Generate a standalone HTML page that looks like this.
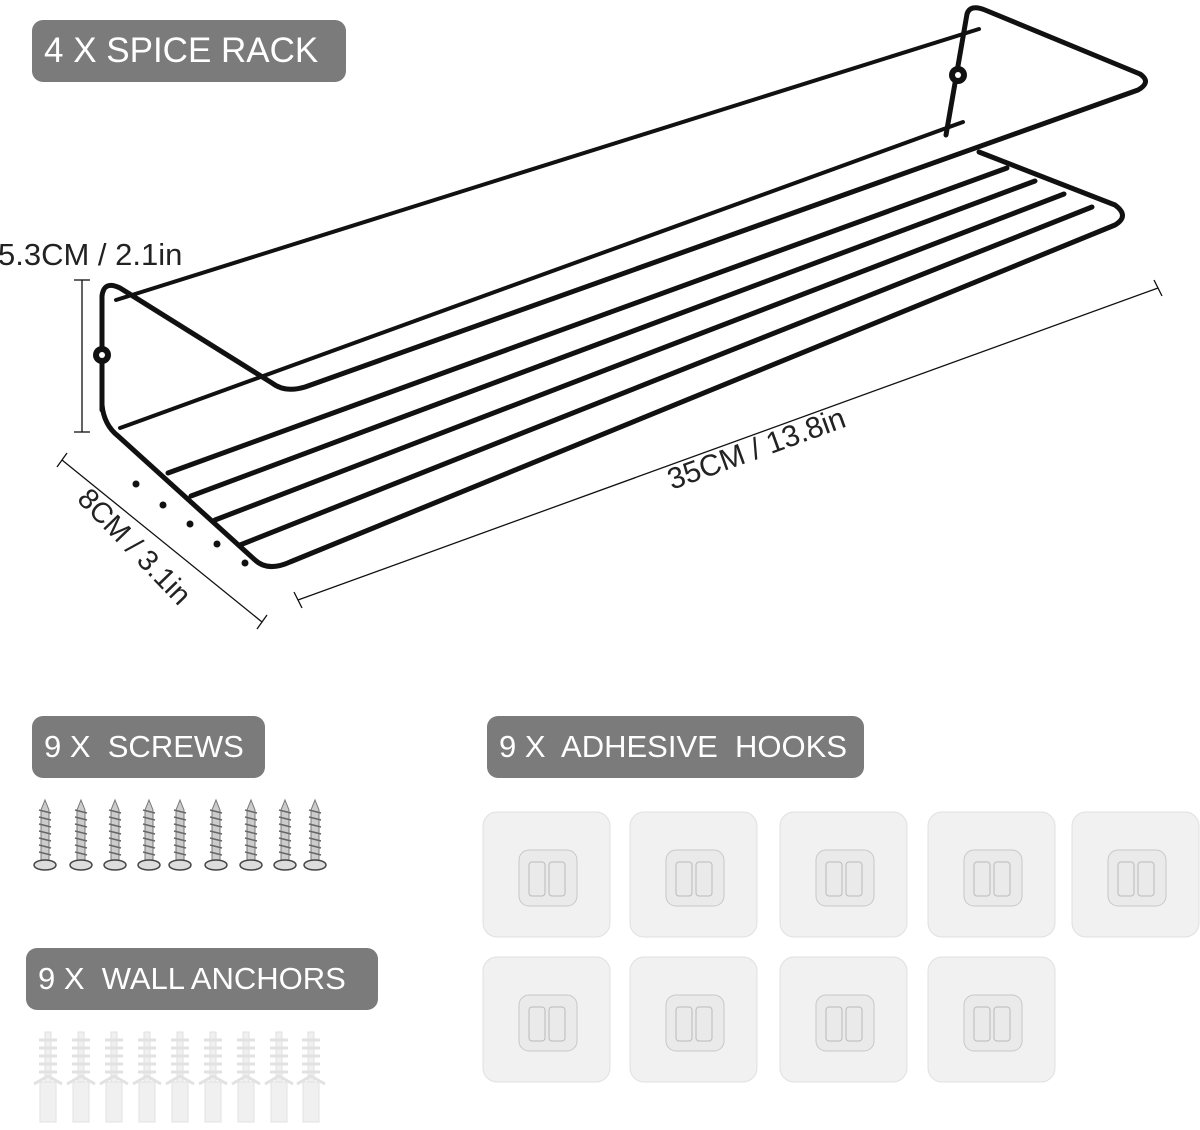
<!DOCTYPE html>
<html><head><style>
body{margin:0;background:#fff;}
.lab{position:absolute;background:#7b7b7b;color:#fff;font-family:"Liberation Sans",sans-serif;border-radius:11px;display:flex;align-items:center;padding-left:12px;box-sizing:border-box;font-size:31px;white-space:pre;}
</style></head><body>
<div style="position:relative;width:1200px;height:1130px;overflow:hidden;">
<svg width="1200" height="1130" style="position:absolute;left:0;top:0" font-family="Liberation Sans, sans-serif">
<g fill="none" stroke="#111" stroke-width="5" stroke-linecap="round" stroke-linejoin="round">
<path d="M116 300 L979 29" stroke-width="4"/>
<path d="M120 428 L963 122" stroke-width="4"/>
<path d="M102 410 L102 296 Q104 280 120 288 L272 383 Q285 393 305 387 L1138 90 Q1152 82 1140 74 L985 10 Q970 4 967 14 L946 135"/>
<path d="M102 405 Q104 425 118 436 L255 560 Q268 572 290 562 L1115 225 Q1130 216 1115 205 L979 152"/>
<path d="M168 473 L1007 168"/>
<path d="M191 496 L1035 181"/>
<path d="M215 520 L1064 194"/>
<path d="M240 545 L1092 207"/>
</g>
<g fill="#111"><circle cx="136" cy="484" r="3.5"/><circle cx="163" cy="505" r="3.5"/><circle cx="190" cy="524" r="3.5"/><circle cx="217" cy="544" r="3.5"/><circle cx="245" cy="563" r="3.5"/></g>
<circle cx="102" cy="355" r="9" fill="#111"/><circle cx="102" cy="355" r="3" fill="#fff"/>
<circle cx="958" cy="75" r="9" fill="#111"/><circle cx="958" cy="75" r="3" fill="#fff"/>
<g stroke="#111" stroke-width="1.3">
<line x1="82" y1="280" x2="82" y2="432"/><line x1="74" y1="280" x2="90" y2="280"/><line x1="74" y1="432" x2="90" y2="432"/>
<line x1="62" y1="460" x2="262" y2="622"/><line x1="57" y1="467" x2="67" y2="453"/><line x1="257" y1="629" x2="267" y2="615"/>
<line x1="298" y1="600" x2="1158" y2="288"/><line x1="294" y1="592" x2="302" y2="608"/><line x1="1154" y1="280" x2="1162" y2="296"/>
</g>
<g fill="#222">
<text x="-2" y="265" font-size="31">5.3CM / 2.1in</text>
<text transform="translate(76,500) rotate(46)" font-size="29">8CM / 3.1in</text>
<text transform="translate(672,490) rotate(-20)" font-size="30">35CM / 13.8in</text>
</g>
</svg>
<svg width="1200" height="1130" style="position:absolute;left:0;top:0">
<defs>
<g id="screw"><path d="M0 0 L4 10 L4 60 L-4 60 L-4 10 Z" fill="#ccc" stroke="#777"/><path d="M-6 10 L6 13 M-6 17 L6 20 M-6 24 L6 27 M-6 31 L6 34 M-6 38 L6 41 M-6 45 L6 48 M-6 52 L6 55" stroke="#666" stroke-width="1.5"/><ellipse cx="0" cy="65" rx="11" ry="5" fill="#ddd" stroke="#444" stroke-width="1.5"/></g>
<g id="anchor"><rect x="-3" y="0" width="6" height="50" fill="#f0f0f0" stroke="#e0e0e0"/><path d="M-9 8 L9 8 M-9 16 L9 16 M-9 24 L9 24 M-9 32 L9 32 M-9 40 L9 40" stroke="#e2e2e2" stroke-width="3"/><path d="M-14 52 L0 44 L14 52" stroke="#e2e2e2" stroke-width="3" fill="none"/><rect x="-8" y="50" width="16" height="40" fill="#f0f0f0" stroke="#e2e2e2"/></g>
<g id="hook"><rect x="0" y="0" width="127" height="125" rx="14" fill="#f1f1f1" stroke="#e0e0e0"/><rect x="36" y="38" width="58" height="56" rx="10" fill="#eaeaea" stroke="#c8c8c8"/><rect x="46" y="50" width="16" height="34" rx="3" fill="none" stroke="#bbb"/><rect x="66" y="50" width="16" height="34" rx="3" fill="none" stroke="#bbb"/></g>
</defs>
<use href="#screw" x="45" y="800"/><use href="#screw" x="81" y="800"/><use href="#screw" x="115" y="800"/><use href="#screw" x="149" y="800"/><use href="#screw" x="180" y="800"/><use href="#screw" x="216" y="800"/><use href="#screw" x="251" y="800"/><use href="#screw" x="285" y="800"/><use href="#screw" x="315" y="800"/>
<use href="#anchor" x="48" y="1032"/><use href="#anchor" x="81" y="1032"/><use href="#anchor" x="114" y="1032"/><use href="#anchor" x="147" y="1032"/><use href="#anchor" x="180" y="1032"/><use href="#anchor" x="213" y="1032"/><use href="#anchor" x="246" y="1032"/><use href="#anchor" x="279" y="1032"/><use href="#anchor" x="311" y="1032"/>
<use href="#hook" x="483" y="812"/><use href="#hook" x="630" y="812"/><use href="#hook" x="780" y="812"/><use href="#hook" x="928" y="812"/><use href="#hook" x="1072" y="812"/>
<use href="#hook" x="483" y="957"/><use href="#hook" x="630" y="957"/><use href="#hook" x="780" y="957"/><use href="#hook" x="928" y="957"/>
</svg>
<div class="lab" style="left:32px;top:20px;width:314px;height:62px;font-size:35px;">4 X SPICE RACK</div>
<div class="lab" style="left:32px;top:716px;width:233px;height:62px;">9 X  SCREWS</div>
<div class="lab" style="left:487px;top:716px;width:377px;height:62px;">9 X  ADHESIVE  HOOKS</div>
<div class="lab" style="left:26px;top:948px;width:352px;height:62px;">9 X  WALL ANCHORS</div>
</div>
</body></html>
